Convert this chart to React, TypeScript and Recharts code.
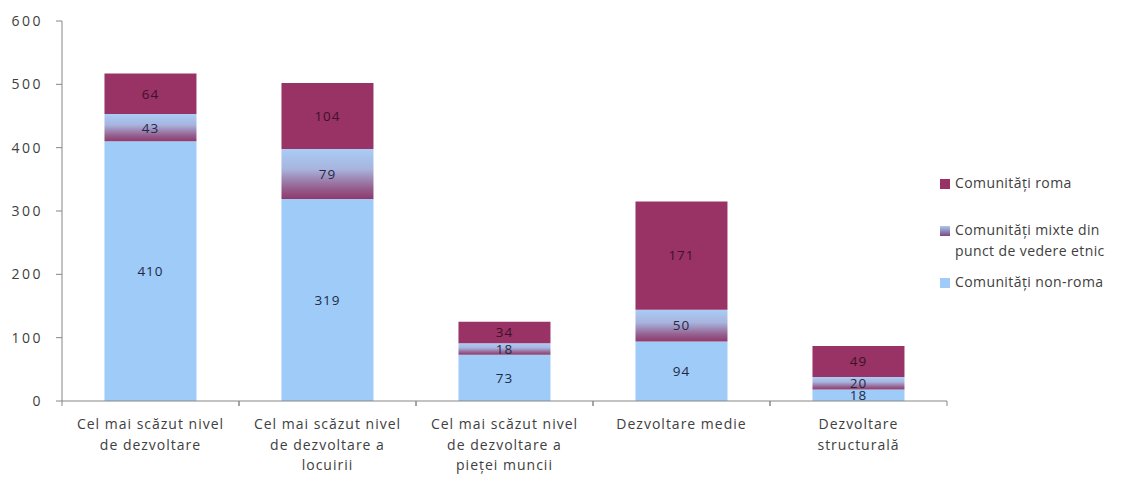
import { BarChart, Bar, XAxis, YAxis, LabelList } from "recharts";

const categories = [
  "Cel mai scăzut nivel\nde dezvoltare",
  "Cel mai scăzut nivel\nde dezvoltare a\nlocuirii",
  "Cel mai scăzut nivel\nde dezvoltare a\npieței muncii",
  "Dezvoltare medie",
  "Dezvoltare\nstructurală",
];
const nonRoma = [410, 319, 73, 94, 18];
const mixte = [43, 79, 18, 50, 20];
const roma = [64, 104, 34, 171, 49];
const yTicks = [0, 100, 200, 300, 400, 500, 600];

const data = categories.map((name, i) => ({
  name,
  nonRoma: nonRoma[i],
  mixte: mixte[i],
  roma: roma[i],
}));

const FONT = "'Open Sans', 'DejaVu Sans', sans-serif";
const AXIS = "#868686";
const TEXT = "#404040";
const PLOT_W = 885;

function CatTick(props: any) {
  const { x, y, payload } = props;
  const half = PLOT_W / categories.length / 2;
  const lines = String(payload.value).split("\n");
  return (
    <g>
      <line x1={x - half} x2={x - half} y1={y - 8} y2={y - 3} stroke={AXIS} />
      <line x1={x + half} x2={x + half} y1={y - 8} y2={y - 3} stroke={AXIS} />
      <text
        x={x}
        y={y + 20}
        textAnchor="middle"
        fontSize={14}
        letterSpacing={1}
        fill={TEXT}
        fontFamily={FONT}
      >
        {lines.map((l, i) => (
          <tspan key={i} x={x} dy={i === 0 ? 0 : 20.5}>
            {l}
          </tspan>
        ))}
      </text>
    </g>
  );
}

function LegendBox() {
  const items = [
    { lines: ["Comunități roma"], fill: "#993366", top: 0 },
    { lines: ["Comunități mixte din", "punct de vedere etnic"], fill: "url(#mixLeg)", top: 47 },
    { lines: ["Comunități non-roma"], fill: "#9ECBF7", top: 99 },
  ];
  return (
    <div
      style={{
        position: "absolute",
        top: 165,
        left: 932,
        width: 205,
        fontFamily: FONT,
        fontSize: 14,
        letterSpacing: 0.4,
        color: TEXT,
      }}
    >
      {items.map((it, i) => (
        <div key={i} style={{ position: "absolute", top: it.top, left: 0, display: "flex" }}>
          <svg width={10} height={10} style={{ marginTop: 6, marginRight: 5 }}>
            <defs>
              <linearGradient id="mixLeg" x1="0" y1="0" x2="0" y2="1">
                <stop offset="0%" stopColor="#A9C9F2" />
                <stop offset="100%" stopColor="#7A4A80" />
              </linearGradient>
            </defs>
            <rect width={10} height={10} fill={it.fill} />
          </svg>
          <div style={{ lineHeight: "20.5px", whiteSpace: "nowrap" }}>
            {it.lines.map((l, j) => (
              <div key={j}>{l}</div>
            ))}
          </div>
        </div>
      ))}
    </div>
  );
}

const labelProps = { position: "center" as const, fontSize: 13.5, letterSpacing: 1, fontFamily: FONT };

export default function App() {
  return (
    <div style={{ position: "relative", width: 1135, height: 473, background: "#fff" }}>
      <BarChart
        width={1135}
        height={473}
        data={data}
        margin={{ top: 13, right: 196, bottom: 20, left: 0 }}
        barCategoryGap="24%"
      >
        <defs>
          <linearGradient id="mixGrad" x1="0" y1="0" x2="0" y2="1">
            <stop offset="0%" stopColor="#A9CDF5" />
            <stop offset="40%" stopColor="#A8B4DE" />
            <stop offset="78%" stopColor="#95608F" />
            <stop offset="100%" stopColor="#8E3A6B" />
          </linearGradient>
        </defs>
        <XAxis
          dataKey="name"
          axisLine={{ stroke: AXIS }}
          tickLine={false}
          tick={<CatTick />}
          interval={0}
          height={60}
        />
        <YAxis
          domain={[0, 600]}
          ticks={yTicks}
          width={54}
          axisLine={{ stroke: AXIS }}
          tickLine={{ stroke: AXIS }}
          tickSize={6}
          tick={{ fontSize: 14, fill: TEXT, fontFamily: FONT, letterSpacing: 2.5, dx: -11 }}
        />
        <Bar dataKey="nonRoma" stackId="a" fill="#9ECBF7" isAnimationActive={false}>
          <LabelList dataKey="nonRoma" {...labelProps} fill="#1F2A48" />
        </Bar>
        <Bar dataKey="mixte" stackId="a" fill="url(#mixGrad)" isAnimationActive={false}>
          <LabelList dataKey="mixte" {...labelProps} fill="#1F2A48" />
        </Bar>
        <Bar dataKey="roma" stackId="a" fill="#993366" isAnimationActive={false}>
          <LabelList dataKey="roma" {...labelProps} fill="#3F1028" />
        </Bar>
      </BarChart>
      <LegendBox />
    </div>
  );
}
